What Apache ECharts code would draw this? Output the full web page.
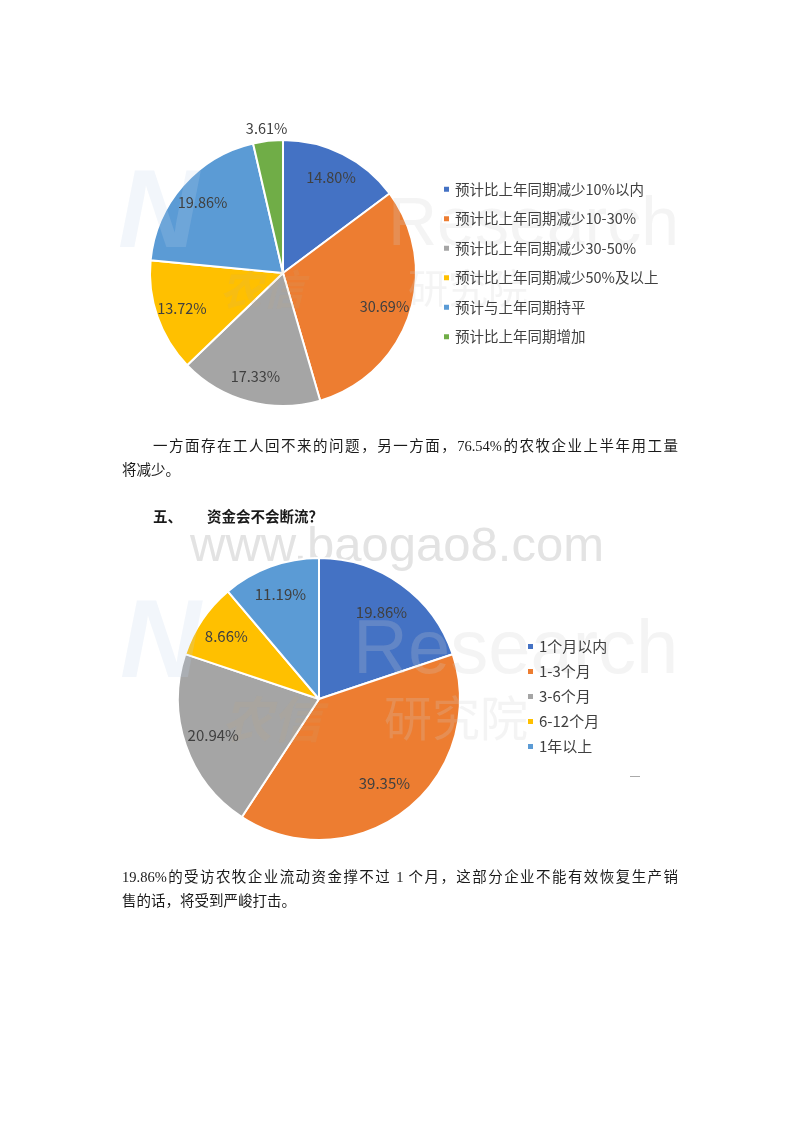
<!DOCTYPE html>
<html>
<head>
<meta charset="utf-8">
<script src="https://cdn.jsdelivr.net/npm/echarts@6/dist/echarts.min.js"></script>
<style>
  html, body { margin: 0; padding: 0; background: #fff; }
  #chart { position: absolute; left: 0; top: 0; width: 800px; height: 1132px; }
  .t { position: absolute; font-family: "Liberation Serif", "Noto Sans CJK SC", serif; font-size: 14.5px; color: #1a1a1a; line-height: 24px; white-space: nowrap; }
  .j { text-align: justify; text-align-last: justify; }
  .b { font-weight: bold; }
</style>
</head>
<body>
<div id="chart"></div>
<div class="t j" style="left:153px; top:434px; width:525px;">一方面存在工人回不来的问题，另一方面，76.54%的农牧企业上半年用工量</div>
<div class="t" style="left:122px; top:458px;">将减少。</div>
<div class="t b" style="left:153px; top:505px;">五、</div>
<div class="t b" style="left:207px; top:505px;">资金会不会断流？</div>
<div class="t j" style="left:122px; top:865px; width:556px;">19.86%的受访农牧企业流动资金撑不过 1 个月，这部分企业不能有效恢复生产销</div>
<div class="t" style="left:122px; top:889px;">售的话，将受到严峻打击。</div>
<script>
const cats1 = ['预计比上年同期减少10%以内', '预计比上年同期减少10-30%', '预计比上年同期减少30-50%', '预计比上年同期减少50%及以上', '预计与上年同期持平', '预计比上年同期增加'];
const vals1 = [14.80, 30.69, 17.33, 13.72, 19.86, 3.61];
const colors1 = ['#4472C4', '#ED7D31', '#A5A5A5', '#FFC000', '#5B9BD5', '#70AD47'];

const cats2 = ['1个月以内', '1-3个月', '3-6个月', '6-12个月', '1年以上'];
const vals2 = [19.86, 39.35, 20.94, 8.66, 11.19];
const colors2 = ['#4472C4', '#ED7D31', '#A5A5A5', '#FFC000', '#5B9BD5'];

const FONT = '"Noto Sans CJK SC", "Noto Sans", sans-serif';

function baseSeries(cats, vals, colors, center, r) {
  return {
    type: 'pie', center: center, radius: r, startAngle: 90, clockwise: true,
    silent: true, z: 2,
    itemStyle: { borderColor: '#fff', borderWidth: 2 },
    label: { show: false }, labelLine: { show: false },
    data: cats.map((n, i) => ({ name: n, value: vals[i], itemStyle: { color: colors[i] } }))
  };
}
function labelSeries(cats, vals, center, radius, showIdx, fs) {
  return {
    type: 'pie', center: center, radius: radius, startAngle: 90, clockwise: true,
    silent: true, legendHoverLink: false, avoidLabelOverlap: false, z: 5,
    itemStyle: { color: 'rgba(0,0,0,0)', borderWidth: 0 },
    emphasis: { disabled: true },
    labelLine: { show: false },
    label: {
      position: 'inside', rotate: 0, color: '#404040', fontSize: fs, fontFamily: FONT,
      formatter: p => p.value.toFixed(2) + '%'
    },
    data: cats.map((n, i) => ({ name: n, value: vals[i], label: { show: showIdx.indexOf(i) >= 0 } }))
  };
}

const chart = echarts.init(document.getElementById('chart'), null, { renderer: 'canvas' });
const c1 = [283, 273], r1 = 133;
const c2 = [319, 699], r2 = 141;

const wm = 'rgba(205,205,205,0.22)';
const wmLogo = 'rgba(190,210,235,0.2)';
const wmLogo2 = 'rgba(200,170,130,0.14)';
chart.setOption({
  animation: false,
  backgroundColor: 'transparent',
  legend: [
    {
      data: cats1, orient: 'vertical', left: 437, top: 177, icon: 'rect',
      itemWidth: 7, itemHeight: 7, itemGap: 15, selectedMode: false,
      textStyle: { fontSize: 14.5, color: '#404040', fontFamily: FONT }
    },
    {
      data: cats2, orient: 'vertical', left: 521, top: 634, icon: 'rect',
      itemWidth: 7, itemHeight: 7, itemGap: 10, selectedMode: false,
      textStyle: { fontSize: 15, color: '#404040', fontFamily: FONT }
    }
  ],
  series: [
    baseSeries(cats1, vals1, colors1, c1, r1),
    labelSeries(cats1, vals1, c1, [75, r1], [0, 1, 2, 3, 4], 14.5),
    labelSeries(cats1, vals1, c1, [138, 146], [5], 14.5),
    baseSeries(cats2, vals2, colors2, c2, r2),
    labelSeries(cats2, vals2, c2, [67, r2], [0, 1], 15),
    labelSeries(cats2, vals2, c2, [77, r2], [2, 3, 4], 15)
  ],
  graphic: [
    { type: 'text', z: 0, left: 190, top: 523, style: { text: 'www.baogao8.com', font: '49px "Liberation Sans", sans-serif', fill: '#E3E3E3' } },
    { type: 'text', z: 3, left: 388, top: 192, style: { text: 'Research', font: '68px "Liberation Sans", sans-serif', fill: wm } },
    { type: 'text', z: 3, left: 408, top: 268, style: { text: '研究院', font: '40px "Noto Sans CJK SC", sans-serif', fill: wm } },
    { type: 'text', z: 3, left: 118, top: 160, style: { text: 'N', font: 'italic bold 112px "Liberation Sans", sans-serif', fill: wmLogo } },
    { type: 'text', z: 3, left: 220, top: 268, style: { text: '农信', font: 'italic bold 42px "Noto Sans CJK SC", sans-serif', fill: wmLogo2 } },
    { type: 'text', z: 3, left: 353, top: 614, style: { text: 'Research', font: '76px "Liberation Sans", sans-serif', fill: wm } },
    { type: 'text', z: 3, left: 384, top: 694, style: { text: '研究院', font: '48px "Noto Sans CJK SC", sans-serif', fill: wm } },
    { type: 'text', z: 3, left: 120, top: 590, style: { text: 'N', font: 'italic bold 112px "Liberation Sans", sans-serif', fill: wmLogo } },
    { type: 'text', z: 3, left: 222, top: 694, style: { text: '农信', font: 'italic bold 50px "Noto Sans CJK SC", sans-serif', fill: wmLogo2 } },
    { type: 'line', z: 5, shape: { x1: 630, y1: 776.5, x2: 640, y2: 776.5 }, style: { stroke: '#AAAAAA', lineWidth: 1 } }
  ]
});
</script>
</body>
</html>
